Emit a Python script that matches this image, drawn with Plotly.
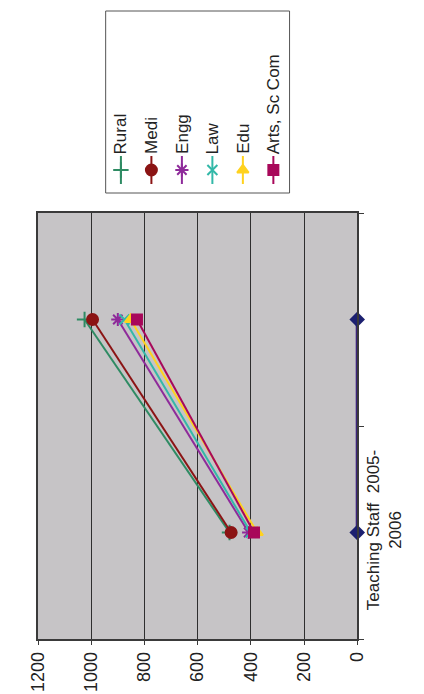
import plotly.graph_objects as go

# ---- data ----
categories = ["Teaching Staff  2005-<br>2006", " "]
series_names = ["Rural", "Medi", "Engg", "Law", "Edu", "Arts, Sc Com"]
rural = [480, 1025]
medi = [474, 995]
engg = [408, 900]
law = [400, 875]
edu = [376, 852]
arts = [388, 828]
baseline = [0, 0]
value_ticks = [0, 200, 400, 600, 800, 1000, 1200]

W, H = 424, 694
FONT = "Liberation Sans, Arial, sans-serif"

styles = [
    dict(color="#2e8b63", symbol="cross-thin-open", size=11),
    dict(color="#8b1414", symbol="circle", size=11),
    dict(color="#8e2a9a", symbol="asterisk-open", size=11),
    dict(color="#33b8a8", symbol="x-thin-open", size=10),
    dict(color="#ffd21f", symbol="triangle-up", size=10),
    dict(color="#a8085a", symbol="square", size=10),
]
values = [rural, medi, engg, law, edu, arts]

fig = go.Figure()

# baseline series (zero values)
fig.add_trace(go.Scatter(
    x=baseline, y=categories, mode="lines+markers",
    line=dict(color="#3a237a", width=3),
    marker=dict(symbol="diamond", size=12, color="#1c2070"),
    cliponaxis=False, xaxis="x", yaxis="y", showlegend=False))

for name, vals, st in zip(series_names, values, styles):
    fig.add_trace(go.Scatter(
        x=vals, y=categories, mode="lines+markers", name=name,
        line=dict(color=st["color"], width=2),
        marker=dict(symbol=st["symbol"], size=st["size"], color=st["color"],
                    line=dict(color=st["color"], width=2)),
        cliponaxis=False, xaxis="x", yaxis="y", showlegend=False))

# ---- manual rotated legend (pixel overlay axes) ----
leg_x0, leg_x1, leg_y0, leg_y1 = 92, 285, 3, 185
col0, step = 108, 32
shapes = [
    dict(type="rect", xref="x domain", yref="y domain", x0=0, x1=1, y0=0, y1=1,
         fillcolor="#c6c4c6", line=dict(width=0), layer="below"),
    dict(type="rect", xref="x2", yref="y2", x0=leg_x0, x1=leg_x1, y0=leg_y0, y1=leg_y1,
         fillcolor="white", line=dict(color="#555555", width=1), layer="below"),
]
annotations = []
for i, (name, st) in enumerate(zip(series_names, styles)):
    cx = col0 + step * i
    fig.add_trace(go.Scatter(
        x=[cx, cx], y=[148, 176], mode="lines",
        line=dict(color=st["color"], width=2),
        xaxis="x2", yaxis="y2", showlegend=False, hoverinfo="skip"))
    fig.add_trace(go.Scatter(
        x=[cx], y=[162], mode="markers",
        marker=dict(symbol=st["symbol"], size=st["size"], color=st["color"],
                    line=dict(color=st["color"], width=2)),
        xaxis="x2", yaxis="y2", showlegend=False, hoverinfo="skip"))
    annotations.append(dict(
        xref="x2", yref="y2", x=cx, y=148, text=name, showarrow=False,
        textangle=-90, xanchor="center", yanchor="bottom",
        font=dict(family=FONT, size=17, color="#222222")))

fig.update_layout(
    width=W, height=H,
    margin=dict(l=0, r=0, t=0, b=0),
    paper_bgcolor="white", plot_bgcolor="rgba(0,0,0,0)",
    showlegend=False,
    shapes=shapes, annotations=annotations,
    font=dict(family=FONT, size=17, color="#222222"),
    xaxis=dict(
        domain=[21 / W, 356 / W], range=[1200, 0],
        tickvals=value_ticks, ticktext=[str(v) for v in value_ticks],
        tickangle=-90, tickfont=dict(size=18, family=FONT, color="#222222"),
        showgrid=True, gridcolor="#2e2e2e", gridwidth=1, zeroline=False,
        showline=True, mirror=True, linecolor="#3a3a3a", linewidth=1.5,
        ticks="outside", ticklen=4, tickcolor="#3a3a3a", anchor="y"),
    yaxis=dict(
        domain=[1 - 631 / H, 1 - 205 / H], type="category",
        categoryorder="array", categoryarray=categories, range=[-0.5, 1.5],
        side="right", tickangle=-90, tickson="boundaries",
        ticks="outside", ticklen=5, tickcolor="#3a3a3a",
        tickfont=dict(size=17, family=FONT, color="#222222"),
        showgrid=False, zeroline=False,
        showline=True, mirror=True, linecolor="#3a3a3a", linewidth=1.5,
        anchor="x"),
    xaxis2=dict(domain=[0, 1], range=[0, W], visible=False, fixedrange=True, anchor="y2"),
    yaxis2=dict(domain=[0, 1], range=[H, 0], visible=False, fixedrange=True, anchor="x2"),
)

fig.write_html("out.html")
